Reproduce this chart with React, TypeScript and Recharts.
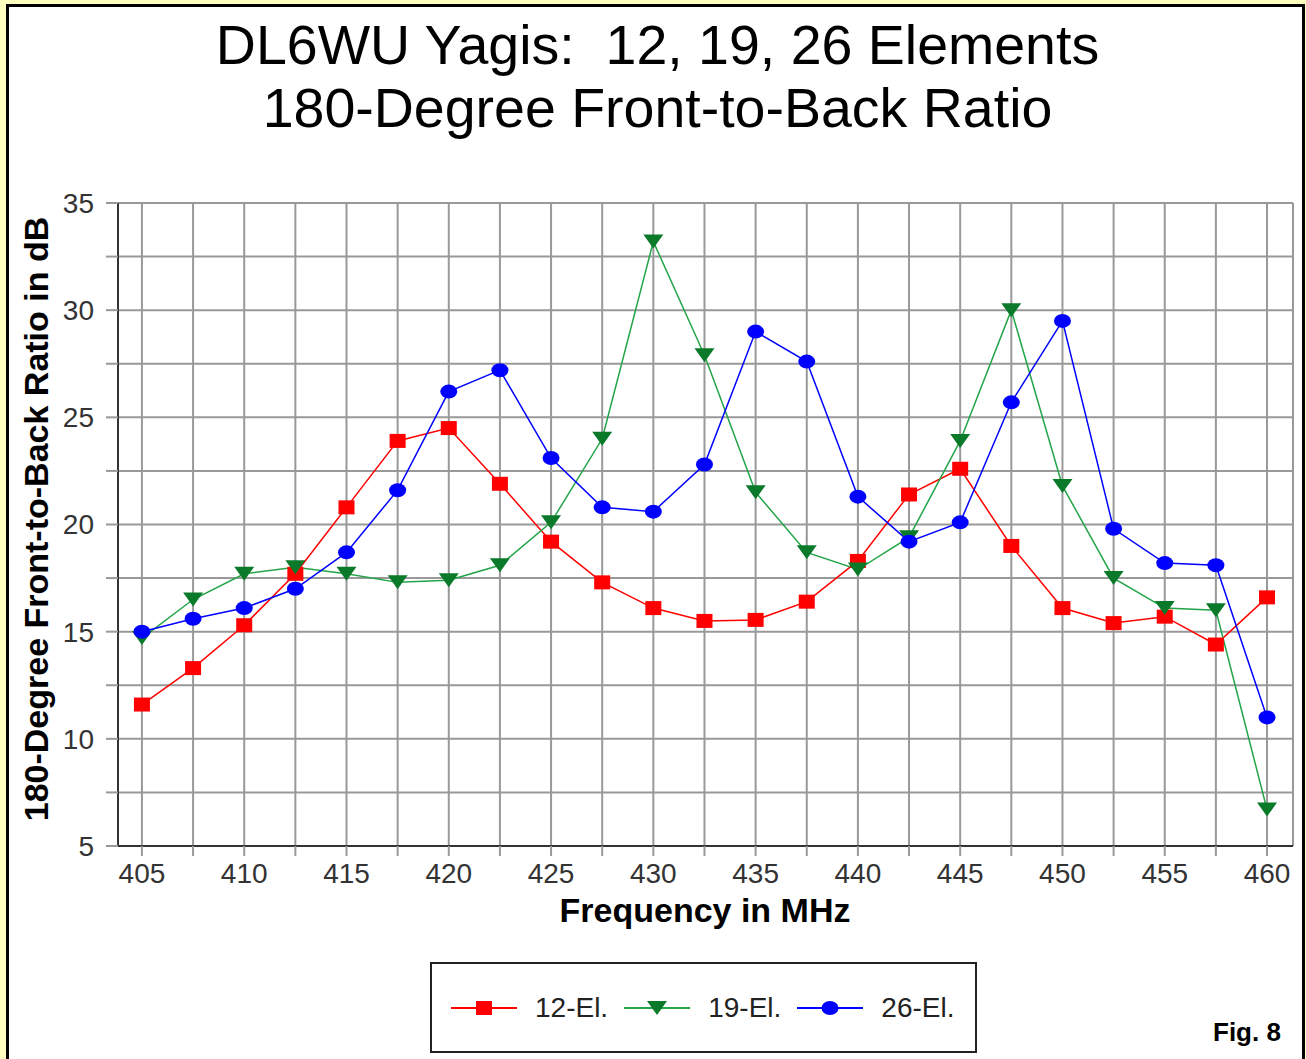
import { LineChart, Line, XAxis, YAxis, CartesianGrid, Legend } from "recharts";

const FREQS = [
  405, 407.5, 410, 412.5, 415, 417.5, 420, 422.5, 425, 427.5, 430, 432.5,
  435, 437.5, 440, 442.5, 445, 447.5, 450, 452.5, 455, 457.5, 460,
];
const EL12 = [
  11.6, 13.3, 15.3, 17.7, 20.8, 23.9, 24.5, 21.9, 19.2, 17.3, 16.1, 15.5,
  15.55, 16.4, 18.3, 21.4, 22.6, 19.0, 16.1, 15.4, 15.7, 14.4, 16.6,
];
const EL19 = [
  14.7, 16.5, 17.7, 18.0, 17.7, 17.3, 17.4, 18.1, 20.1, 24.0, 33.2, 27.9,
  21.5, 18.7, 17.9, 19.4, 23.9, 30.0, 21.8, 17.5, 16.1, 16.0, 6.7,
];
const EL26 = [
  15.0, 15.6, 16.1, 17.0, 18.7, 21.6, 26.2, 27.2, 23.1, 20.8, 20.6, 22.8,
  29.0, 27.6, 21.3, 19.2, 20.1, 25.7, 29.5, 19.8, 18.2, 18.1, 11.0,
];
const Y_TICKS = [5, 7.5, 10, 12.5, 15, 17.5, 20, 22.5, 25, 27.5, 30, 32.5, 35];
const X_DOMAIN = [403.83, 461.27];

const data = FREQS.map((f, i) => ({ freq: f, el12: EL12[i], el19: EL19[i], el26: EL26[i] }));

const FONT = "'Liberation Sans', Arial, Helvetica, sans-serif";
const RED = "#ff0000";
const GREEN_LINE = "#22a548";
const GREEN_DOT = "#0a7a2a";
const BLUE = "#0000ff";

function Marker({ kind, cx, cy }: { kind: string; cx: number; cy: number }) {
  if (cx == null || cy == null) return null;
  if (kind === "el12")
    return <rect x={cx - 8} y={cy - 7} width={16} height={14} fill={RED} />;
  if (kind === "el19")
    return (
      <polygon
        points={`${cx - 10},${cy - 7} ${cx + 10},${cy - 7} ${cx},${cy + 7}`}
        fill={GREEN_DOT}
      />
    );
  return <ellipse cx={cx} cy={cy} rx={8.5} ry={7} fill={BLUE} />;
}

const dotFor = (kind: string) => (p: any) =>
  <Marker key={`${kind}-${p.index}`} kind={kind} cx={p.cx} cy={p.cy} />;

function LegendBox({ payload }: any) {
  return (
    <div
      style={{
        width: 547,
        height: 91,
        boxSizing: "border-box",
        border: "2px solid #222",
        background: "#fff",
        display: "flex",
        alignItems: "center",
        paddingLeft: 19,
        fontFamily: FONT,
        fontSize: 28,
        color: "#222",
      }}
    >
      {(payload ?? []).map((entry: any) => (
        <div key={entry.dataKey} style={{ display: "flex", alignItems: "center", marginRight: 16 }}>
          <svg width={66} height={20}>
            <line x1={0} y1={10} x2={66} y2={10} stroke={entry.color} strokeWidth={2} />
            <Marker kind={entry.dataKey} cx={33} cy={10} />
          </svg>
          <span style={{ marginLeft: 18 }}>{entry.value}</span>
        </div>
      ))}
    </div>
  );
}

export default function App() {
  return (
    <div
      style={{
        position: "absolute",
        left: 0,
        top: 0,
        width: 1306,
        height: 1059,
        background: "#ffffc0",
        overflow: "hidden",
        fontFamily: FONT,
      }}
    >
      <div
        style={{
          position: "absolute",
          left: 6,
          top: 4,
          right: 1,
          bottom: -10,
          border: "3px solid #000",
          background: "#fff",
        }}
      />
      <div
        style={{
          position: "absolute",
          left: 0,
          top: 14,
          width: 1315,
          textAlign: "center",
          fontSize: 55.5,
          lineHeight: "63px",
          color: "#000",
          whiteSpace: "pre",
        }}
      >
        {"DL6WU Yagis:  12, 19, 26 Elements\n180-Degree Front-to-Back Ratio"}
      </div>
      <div
        style={{
          position: "absolute",
          left: 36,
          top: 519,
          transform: "translate(-50%, -50%) rotate(-90deg)",
          whiteSpace: "nowrap",
          fontSize: 34,
          lineHeight: "34px",
          fontWeight: "bold",
          color: "#000",
        }}
      >
        180-Degree Front-to-Back Ratio in dB
      </div>
      <div
        style={{
          position: "absolute",
          left: 705,
          top: 893,
          transform: "translateX(-50%)",
          whiteSpace: "nowrap",
          fontSize: 34,
          lineHeight: "34px",
          fontWeight: "bold",
          color: "#000",
        }}
      >
        Frequency in MHz
      </div>
      <div
        style={{
          position: "absolute",
          left: 1213,
          top: 1019,
          fontSize: 26,
          lineHeight: "26px",
          fontWeight: "bold",
          color: "#000",
          whiteSpace: "nowrap",
        }}
      >
        Fig. 8
      </div>
      <div style={{ position: "absolute", left: 0, top: 0 }}>
        <LineChart
          width={1306}
          height={1059}
          data={data}
          margin={{ top: 203, right: 13, bottom: 173, left: 58 }}
        >
          <CartesianGrid stroke="#999" strokeWidth={2} />
          <XAxis
            dataKey="freq"
            type="number"
            domain={X_DOMAIN}
            ticks={FREQS}
            interval={0}
            height={40}
            tickFormatter={(v: number) => (v % 5 === 0 ? String(v) : "")}
            tick={{ fill: "#333", fontSize: 28, fontFamily: FONT }}
            tickSize={10}
            tickMargin={7}
            tickLine={{ stroke: "#999", strokeWidth: 2 }}
            axisLine={{ stroke: "#333", strokeWidth: 2 }}
          />
          <XAxis
            xAxisId="top"
            orientation="top"
            dataKey="freq"
            type="number"
            domain={X_DOMAIN}
            height={0}
            tick={false}
            tickLine={false}
            axisLine={{ stroke: "#333", strokeWidth: 2 }}
          />
          <YAxis
            type="number"
            domain={[5, 35]}
            ticks={Y_TICKS}
            interval={0}
            width={60}
            tickFormatter={(v: number) => (v % 5 === 0 ? String(v) : "")}
            tick={{ fill: "#333", fontSize: 28, fontFamily: FONT }}
            tickSize={12}
            tickMargin={12}
            tickLine={{ stroke: "#999", strokeWidth: 2 }}
            axisLine={{ stroke: "#333", strokeWidth: 2 }}
          />
          <YAxis
            yAxisId="right"
            orientation="right"
            type="number"
            domain={[5, 35]}
            width={0}
            tick={false}
            tickLine={false}
            axisLine={{ stroke: "#333", strokeWidth: 2 }}
          />
          <Line
            dataKey="el12"
            name="12-El."
            stroke={RED}
            strokeWidth={1.5}
            dot={dotFor("el12")}
            activeDot={false}
            isAnimationActive={false}
          />
          <Line
            dataKey="el19"
            name="19-El."
            stroke={GREEN_LINE}
            strokeWidth={1.5}
            dot={dotFor("el19")}
            activeDot={false}
            isAnimationActive={false}
          />
          <Line
            dataKey="el26"
            name="26-El."
            stroke={BLUE}
            strokeWidth={1.5}
            dot={dotFor("el26")}
            activeDot={false}
            isAnimationActive={false}
          />
          <Legend
            layout="horizontal"
            verticalAlign="middle"
            align="center"
            content={<LegendBox />}
            wrapperStyle={{ left: 430, top: 962, width: 547, height: 91 }}
          />
        </LineChart>
      </div>
    </div>
  );
}
